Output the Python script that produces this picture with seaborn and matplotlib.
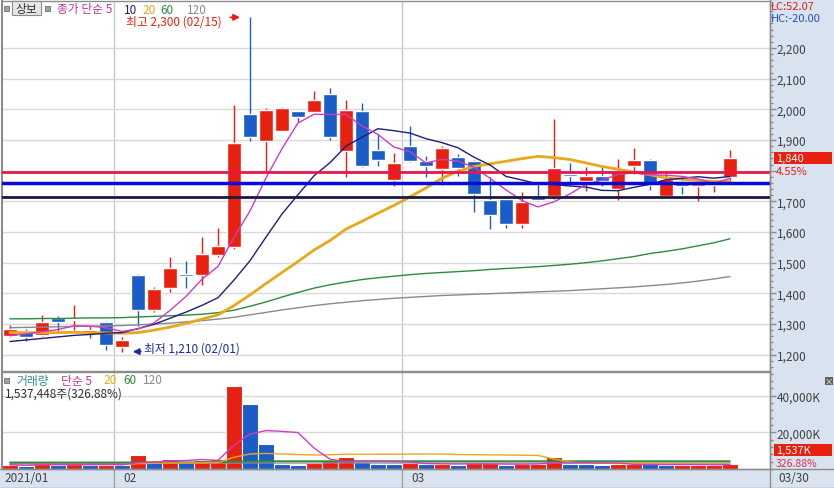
import matplotlib
matplotlib.use("Agg")
import matplotlib.pyplot as plt
from matplotlib.patches import Rectangle
from matplotlib.lines import Line2D
from matplotlib.ticker import FuncFormatter, MultipleLocator
import matplotlib.transforms as mtrans
import numpy as np
import pandas as pd
import seaborn as sns

# trading days on screen (21 Jan - 30 Mar 2021, KRX holidays removed)
dates = pd.bdate_range("2021-01-21", "2021-03-30")
dates = dates[~dates.isin(pd.to_datetime(["2021-02-11", "2021-02-12", "2021-03-01"]))]

opens = [1262, 1276, 1264, 1319, 1313, 1272, 1308, 1226, 1460, 1347,
         1416, 1462, 1461, 1525, 1551, 1985, 1898, 1930, 1994, 1992,
         2050, 1865, 1994, 1867, 1771, 1882, 1831, 1804, 1846, 1831,
         1705, 1708, 1626, 1713, 1717, 1788, 1767, 1782, 1740, 1816,
         1835, 1717, 1767, 1751, 1752, 1780]
highs = [1297, 1284, 1330, 1325, 1362, 1295, 1310, 1257, 1462, 1420,
         1518, 1507, 1583, 1612, 2014, 2300, 2004, 2006, 1996, 2061,
         2070, 2030, 2020, 1920, 1858, 1947, 1849, 1882, 1854, 1834,
         1778, 1710, 1732, 1762, 1969, 1825, 1813, 1816, 1838, 1873,
         1837, 1795, 1780, 1767, 1765, 1868]
lows = [1258, 1246, 1260, 1278, 1280, 1254, 1215, 1210, 1295, 1338,
        1406, 1417, 1428, 1520, 1545, 1898, 1795, 1928, 1958, 1990,
        1901, 1778, 1812, 1814, 1749, 1827, 1778, 1753, 1782, 1666,
        1610, 1612, 1612, 1700, 1708, 1753, 1735, 1751, 1705, 1789,
        1738, 1715, 1724, 1702, 1730, 1767]
closes = [1284, 1257, 1308, 1306, 1316, 1279, 1230, 1248, 1347, 1414,
          1483, 1458, 1528, 1556, 1890, 1911, 1998, 2004, 1975, 2031,
          1909, 1999, 1816, 1836, 1825, 1833, 1816, 1874, 1808, 1724,
          1655, 1626, 1699, 1705, 1808, 1784, 1782, 1767, 1797, 1835,
          1753, 1773, 1749, 1755, 1760, 1840]
# volume bars in thousand shares (as drawn)
volumes = [2340, 1800, 3100, 2340, 2500, 2200, 2400, 2250, 7630, 4200,
           5450, 3650, 4900, 5450, 45400, 35400, 13600, 2700, 2200, 3270,
           4900, 6700, 3650, 2700, 2600, 3300, 2700, 2800, 2200, 3000,
           3100, 2300, 2500, 2800, 6300, 2800, 2500, 2000, 2500, 2800,
           2500, 2100, 2200, 2300, 2400, 2900]
last_volume_shares = 1537448
last_volume_ratio = 326.88

# moving-average values before each window fills
ma5_head = [1262, 1268, 1275, 1282]
ma10_head = [1243, 1248, 1253, 1258, 1263, 1266, 1270, 1272, 1285]
ma20_head = [1272, 1272, 1272, 1272, 1273, 1272, 1271, 1270, 1272, 1280,
             1290, 1302, 1316, 1330, 1360, 1395, 1432, 1468, 1504]
ma60 = [1317, 1317, 1318, 1318, 1319, 1320, 1320, 1321, 1323, 1325,
        1327, 1329, 1332, 1337, 1345, 1358, 1372, 1388, 1403, 1417,
        1428, 1437, 1445, 1451, 1456, 1461, 1465, 1468, 1471, 1474,
        1478, 1481, 1484, 1487, 1491, 1495, 1500, 1506, 1513, 1520,
        1530, 1537, 1545, 1555, 1565, 1578]
ma120 = [1288, 1289, 1290, 1291, 1292, 1293, 1294, 1295, 1297, 1300,
         1303, 1307, 1311, 1316, 1322, 1330, 1338, 1346, 1353, 1360,
         1366, 1371, 1376, 1380, 1384, 1387, 1390, 1393, 1395, 1397,
         1399, 1401, 1403, 1405, 1407, 1409, 1412, 1415, 1418, 1421,
         1425, 1429, 1434, 1440, 1447, 1455]
vol_ma60 = [3600, 3600, 3600, 3600, 3600, 3600, 3600, 3600, 3700, 3700,
            3700, 3700, 3700, 3800, 4000, 4200, 4300, 4300, 4300, 4300,
            4300, 4300, 4300, 4300, 4300, 4300, 4300, 4300, 4300, 4300,
            4300, 4300, 4300, 4300, 4300, 4300, 4300, 4300, 4300, 4300,
            4300, 4300, 4300, 4300, 4300, 4300]
vol_ma120 = [3100, 3100, 3100, 3100, 3100, 3100, 3100, 3100, 3100, 3100,
             3100, 3100, 3100, 3100, 3200, 3300, 3300, 3300, 3300, 3300,
             3300, 3300, 3300, 3300, 3300, 3300, 3300, 3300, 3300, 3300,
             3300, 3300, 3300, 3300, 3300, 3300, 3300, 3300, 3300, 3300,
             3300, 3300, 3300, 3300, 3300, 3300]

ref_lines = [1797, 1760, 1715]
ref_colors = ["#E8174B", "#0A0AD8", "#1A1A40"]
ref_widths = [2.0, 2.5, 2.0]

RED = "#E8200F"
BLUE = "#1A5CC8"
C_MA5 = "#CF3CC6"
C_MA10 = "#1E1E78"
C_MA20 = "#E8A81C"
C_MA60 = "#2E8B3E"
C_MA120 = "#8A8A8A"
STRIP = "#D9E3F0"
FRAME = "#8C8C8C"

sns.set_style("white")
plt.rcParams["font.family"] = ["Noto Sans CJK KR", "DejaVu Sans"]
plt.rcParams["axes.unicode_minus"] = False

df = pd.DataFrame({"date": dates, "open": opens, "high": highs, "low": lows,
                   "close": closes, "volume": volumes, "ma60": ma60, "ma120": ma120,
                   "vma60": vol_ma60, "vma120": vol_ma120})
df["i"] = np.arange(len(df))
df["ma5"] = df["close"].rolling(5).mean()
df.loc[:len(ma5_head) - 1, "ma5"] = ma5_head
df["ma10"] = df["close"].rolling(10).mean()
df.loc[:len(ma10_head) - 1, "ma10"] = ma10_head
df["ma20"] = df["close"].rolling(20).mean()
df.loc[:len(ma20_head) - 1, "ma20"] = ma20_head
df["vma5"] = df["volume"].rolling(5, min_periods=1).mean()
df["vma20"] = df["volume"].rolling(20, min_periods=1).mean()
df["vdir"] = np.where(df["volume"].diff().fillna(0) >= 0, "up", "down")
n = len(df)
last = df["close"].iloc[-1]

W, H = 834, 489
fig = plt.figure(figsize=(W / 100, H / 100), dpi=100)
fig.patch.set_facecolor("white")


def fx(x):
    return x / W


def fy(y):
    return 1 - y / H


# right scale strip and bottom date band
fig.add_artist(Rectangle((fx(770), 0), 1 - fx(770), 1, transform=fig.transFigure,
                         facecolor=STRIP, edgecolor="none", zorder=0))
fig.add_artist(Rectangle((0, 0), 1, fy(470), transform=fig.transFigure,
                         facecolor=STRIP, edgecolor="none", zorder=0))

# price panel: px y 2..372, 2200 at y=49, 1200 at y=355.7
upp = 1000 / 306.7
ax = fig.add_axes([fx(2), fy(372), fx(768), 370 / H])
ax.set_ylim(2200 - (372 - 49) * upp, 2200 + (49 - 2) * upp)
ax.set_xlim(-0.5, -0.5 + 768 / 16)

axv = fig.add_axes([fx(2), fy(470), fx(768), 97 / H], sharex=ax)
axv.set_ylim(0, 97 * 545)

# candles
up = df["close"] >= df["open"]
ccol = np.where(up, RED, BLUE)
ax.vlines(df["i"], df["low"], df["high"], colors=ccol, lw=1, zorder=3)
body = np.maximum((df["close"] - df["open"]).abs(), 4)
ax.bar(df["i"], body, bottom=np.minimum(df["open"], df["close"]), width=0.85,
       color=ccol, zorder=4)

# moving averages
for col, c, lw in [("ma120", C_MA120, 1), ("ma60", C_MA60, 1), ("ma20", C_MA20, 2),
                   ("ma10", C_MA10, 1), ("ma5", C_MA5, 1)]:
    sns.lineplot(data=df, x="i", y=col, ax=ax, color=c, lw=lw, zorder=5)

for lvl, c, lw in zip(ref_lines, ref_colors, ref_widths):
    ax.axhline(lvl, color=c, lw=lw, zorder=6)

# volume
sns.barplot(data=df, x="i", y="volume", hue="vdir", palette={"up": RED, "down": BLUE},
            native_scale=True, dodge=False, width=0.98, saturation=1, errorbar=None,
            edgecolor="white", linewidth=0.8, legend=False, ax=axv, zorder=2)
for col, c, lw in [("vma120", C_MA120, 1), ("vma60", C_MA60, 1.2), ("vma20", C_MA20, 1),
                   ("vma5", C_MA5, 1)]:
    sns.lineplot(data=df, x="i", y=col, ax=axv, color=c, lw=lw, zorder=5)

# axes styling
breaks = [i - 0.5 for i in range(1, n) if df["date"][i].month != df["date"][i - 1].month]
for a in (ax, axv):
    a.set_xlabel("")
    a.set_ylabel("")
    a.set_facecolor("white")
    a.set_xticks(breaks)
    a.tick_params(axis="x", length=0, labelbottom=False)
    a.xaxis.grid(True, color="#C8C8C8", lw=1, zorder=0)
    a.yaxis.grid(True, color="#D9D9D9", lw=1, zorder=0)
    a.set_axisbelow(True)
    a.yaxis.tick_right()
    a.tick_params(axis="y", which="major", direction="out", length=4, width=1,
                  color="#8C8C8C", labelsize=8.5, labelcolor="#404040", pad=1)
    a.tick_params(axis="y", which="minor", direction="out", length=2, width=1, color="#8C8C8C")
    for s in a.spines.values():
        s.set_color(FRAME)
        s.set_linewidth(1)
    a.spines["left"].set_linewidth(1.5)
ax.set_xlim(-0.5, -0.5 + 768 / 16)

ax.set_yticks(np.arange(1200, 2201, 100))
ax.yaxis.set_minor_locator(MultipleLocator(20))
# the last-price readout takes the place of a nearby scale label
ax.yaxis.set_major_formatter(FuncFormatter(lambda v, _: "" if abs(v - last) < 50 else f"{v:,.0f}"))
axv.set_yticks([20000, 40000])
axv.yaxis.set_minor_locator(MultipleLocator(4000))
axv.yaxis.set_major_formatter(FuncFormatter(lambda v, _: f"{v:,.0f}K"))

# high / low markers
ih = int(df["high"].idxmax())
il = int(df["low"].idxmin())
hi, lo = df["high"][ih], df["low"][il]
ax.annotate("", xy=(ih - 0.45, hi), xytext=(ih - 1.4, hi),
            arrowprops=dict(arrowstyle="-|>", color=RED, lw=1.3, mutation_scale=9), zorder=7)
ax.annotate(f"최고 {hi:,.0f} ({df['date'][ih]:%m/%d})", xy=(ih - 1.75, hi),
            xytext=(0, -2.5), textcoords="offset points", ha="right", va="center",
            fontsize=8.5, color=RED, zorder=7)
ax.annotate("", xy=(il + 0.5, lo), xytext=(il + 1.35, lo),
            arrowprops=dict(arrowstyle="-|>", color="#1A2AA8", lw=1.3, mutation_scale=9), zorder=7)
ax.annotate(f"최저 {lo:,.0f} ({df['date'][il]:%m/%d})", xy=(il + 1.4, lo),
            xytext=(0, 2.5), textcoords="offset points", ha="left", va="center",
            fontsize=8.5, color="#1A2AA8", zorder=7)


def sq(x, y):
    fig.add_artist(Rectangle((fx(x), fy(y + 5)), 5 / W, 5 / H, transform=fig.transFigure,
                             facecolor="#A0A0A0", edgecolor="#707070", lw=0.6, zorder=10))


def t(x, y, s, c, **kw):
    fig.text(fx(x), fy(y), s, color=c, fontsize=kw.pop("fontsize", 8.5), va="center",
             ha=kw.pop("ha", "left"), zorder=11, **kw)


# price legend
sq(4, 7)
fig.add_artist(Rectangle((fx(12), fy(16)), 29 / W, 14 / H, transform=fig.transFigure,
                         facecolor="#E6E6E6", edgecolor="#8C8C8C", lw=0.8, zorder=10))
t(26.5, 9, "상보", "#303030", ha="center")
sq(45, 7)
t(57, 10, "종가 단순 5", "#C0359E")
t(124, 10, "10", C_MA10)
t(142, 10, "20", C_MA20)
t(160, 10, "60", C_MA60)
t(187, 10, "120", C_MA120)

# volume legend
sq(4, 379)
t(16, 381, "거래량", "#2F8C8C")
t(61, 381, "단순 5", "#C0359E")
t(103, 381, "20", C_MA20)
t(123, 381, "60", C_MA60)
t(143, 381, "120", C_MA120)
t(5, 394, f"{last_volume_shares:,}주({last_volume_ratio:.2f}%)", "#303030")

# right-side readouts
lc = (last - lo) / lo * 100
hc = (last - hi) / hi * 100
chg = (last / df["close"].iloc[-2] - 1) * 100
t(771, 7, f"LC:{lc:.2f}", "#E0201A", fontsize=8)
t(771, 19, f"HC:{hc:.2f}", "#2050C0", fontsize=8)
y_last = 49 + (2200 - last) / upp
fig.add_artist(Rectangle((fx(774), fy(y_last + 6)), 58 / W, 12 / H, transform=fig.transFigure,
                         facecolor=RED, edgecolor="none", zorder=10))
t(776, y_last, f"{last:,.0f}", "white", fontsize=8)
t(776, y_last + 13, f"{chg:.2f}%", "#E0201A", fontsize=8)
fig.add_artist(Rectangle((fx(774), fy(456.5)), 58 / W, 12 / H, transform=fig.transFigure,
                         facecolor=RED, edgecolor="none", zorder=10))
t(776, 450.5, f"{last_volume_shares / 1000:,.0f}K", "white", fontsize=8)
t(776, 464, f"{last_volume_ratio:.2f}%", "#E03050", fontsize=7.5)
fig.add_artist(Rectangle((fx(825), fy(386)), 8 / W, 8 / H, transform=fig.transFigure,
                         facecolor="#606060", edgecolor="none", zorder=10))
t(829, 382, "×", "white", ha="center", fontsize=6)

# date band
band = mtrans.blended_transform_factory(axv.transData, fig.transFigure)
for b in breaks:
    fig.add_artist(Line2D([b, b], [fy(489), fy(470)], transform=band, color="#A0A0A0", lw=1))
fig.add_artist(Line2D([fx(770), fx(770)], [0, 1], transform=fig.transFigure, color=FRAME, lw=1))
fig.add_artist(Line2D([0, 1], [fy(470), fy(470)], transform=fig.transFigure, color=FRAME, lw=1))
fig.add_artist(Line2D([0, 1], [fy(488.5), fy(488.5)], transform=fig.transFigure, color=FRAME, lw=1))
t(4, 479, f"{df['date'][0]:%Y/%m}", "#404040")
for b in breaks:
    fig.text(b + 0.6, fy(479), f"{df['date'][int(b + 0.5)]:%m}", transform=band,
             color="#404040", fontsize=8.5, va="center", ha="left")
t(778, 479, f"{df['date'].iloc[-1]:%m/%d}", "#404040")

fig.savefig("out.png", dpi=100)
